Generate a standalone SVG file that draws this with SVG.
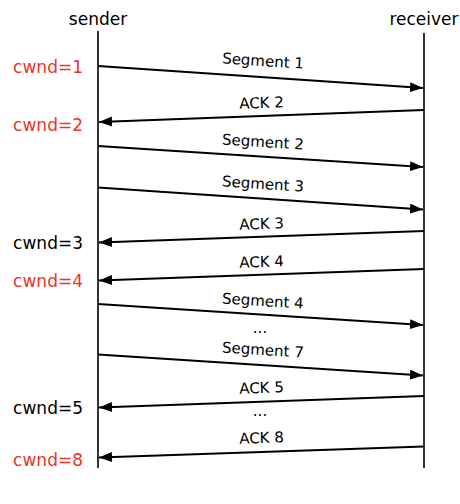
<svg xmlns="http://www.w3.org/2000/svg" width="460" height="504" viewBox="0 0 460 504">
<style>
text{font-family:"DejaVu Sans","Noto Sans",sans-serif;fill:#000}
.hdr{font-size:17px;text-anchor:middle}
.cw{font-size:17px;text-anchor:end}
.red{fill:#ec3326}
.lbl{font-size:15px;text-anchor:middle}
.life{stroke:#000;stroke-width:1.6}
.msg{stroke:#000;stroke-width:2;fill:none;marker-end:url(#ah)}
</style>
<defs>
<marker id="ah" markerUnits="userSpaceOnUse" markerWidth="14" markerHeight="12" refX="13" refY="5" orient="auto">
<path d="M0,0 L13,5 L0,10 Z" fill="#000"/>
</marker>
</defs>
<g id="sender">
<text class="hdr" x="98" y="25">sender</text>
<line class="life" x1="98" y1="31" x2="98" y2="468"/>
</g>
<g id="receiver">
<text class="hdr" x="424" y="25">receiver</text>
<line class="life" x1="424" y1="33" x2="424" y2="468"/>
</g>
<g id="cwnd-labels">
<text class="cw red" x="83" y="73">cwnd=1</text>
<text class="cw red" x="83" y="131">cwnd=2</text>
<text class="cw" x="83" y="249">cwnd=3</text>
<text class="cw red" x="83" y="287">cwnd=4</text>
<text class="cw" x="83" y="414">cwnd=5</text>
<text class="cw red" x="83" y="466">cwnd=8</text>
</g>
<g id="connectors">
<line class="msg" x1="98" y1="66" x2="423" y2="88"/>
<line class="msg" x1="424" y1="110" x2="99" y2="122"/>
<line class="msg" x1="98" y1="146" x2="423" y2="167"/>
<line class="msg" x1="98" y1="187.5" x2="423" y2="209.5"/>
<line class="msg" x1="424" y1="231" x2="99" y2="242.5"/>
<line class="msg" x1="424" y1="269" x2="99" y2="280.5"/>
<line class="msg" x1="98" y1="304" x2="423" y2="325"/>
<line class="msg" x1="98" y1="354.5" x2="423" y2="375.5"/>
<line class="msg" x1="424" y1="396" x2="99" y2="407.5"/>
<line class="msg" x1="424" y1="446.5" x2="99" y2="457.5"/>
</g>
<g id="labels">
<text class="lbl" x="262" y="66" transform="rotate(3.8 262 77)">Segment 1</text>
<text class="lbl" x="262" y="108" transform="rotate(-2.1 262 116)">ACK 2</text>
<text class="lbl" x="262" y="147" transform="rotate(3.7 262 156.5)">Segment 2</text>
<text class="lbl" x="262" y="189" transform="rotate(3.8 262 198.5)">Segment 3</text>
<text class="lbl" x="262" y="229" transform="rotate(-2 262 236.8)">ACK 3</text>
<text class="lbl" x="262" y="267" transform="rotate(-2 262 274.8)">ACK 4</text>
<text class="lbl" x="262" y="306" transform="rotate(3.7 262 314.5)">Segment 4</text>
<text class="lbl" x="260" y="333">...</text>
<text class="lbl" x="262" y="355" transform="rotate(3.7 262 365)">Segment 7</text>
<text class="lbl" x="262" y="393" transform="rotate(-2 262 401.8)">ACK 5</text>
<text class="lbl" x="260" y="416">...</text>
<text class="lbl" x="262" y="443" transform="rotate(-1.9 262 452)">ACK 8</text>
</g>
</svg>
